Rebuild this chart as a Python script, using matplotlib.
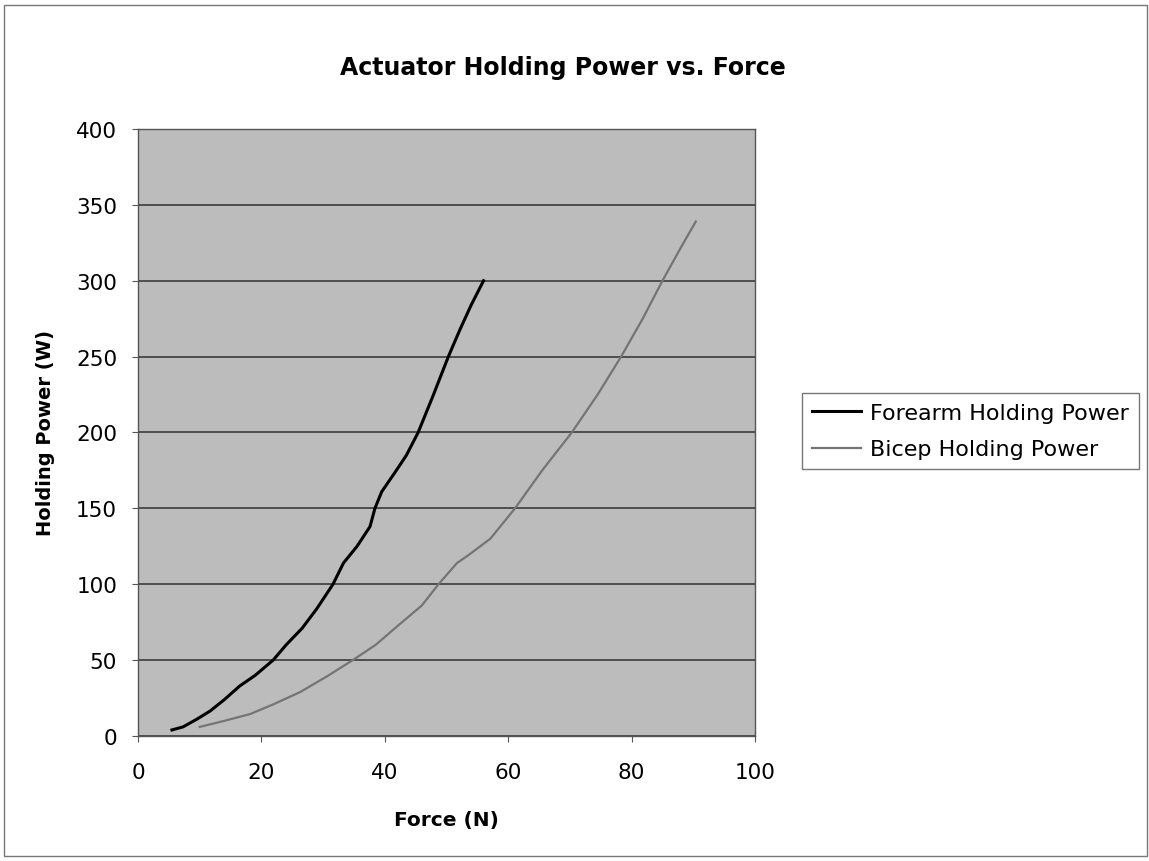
import numpy as np
import matplotlib
matplotlib.use('Agg')
import matplotlib.pyplot as plt
from matplotlib.patches import Rectangle

plt.rcParams['font.family'] = ['DejaVu Sans']

# forearm actuator (N, W)
forearm_x = [5.5, 7.3, 9.5, 11.7, 14, 16.5, 19, 21.9, 24, 26.6, 29, 31.6, 33.3,
             35.5, 37.6, 38.4, 39.5, 41.7, 43.5, 45.4, 47.8, 50.3, 52.2, 54, 56]
forearm_y = [4, 6, 11, 16.5, 24, 33, 40, 50, 60, 71, 84, 100, 114,
             125, 138, 150, 161, 174, 185, 200, 224, 250, 268, 284, 300]

# bicep actuator (N, W)
bicep_x = [10, 14, 18.2, 22, 26.3, 30.5, 34.8, 38.5, 42.5, 46, 48.7, 51.7, 53.5,
           57.1, 61.1, 65.5, 70.3, 74.5, 78.3, 81.8, 85, 88, 90.4]
bicep_y = [6, 10, 14.5, 21, 29, 39, 50, 60, 74, 86, 100, 114, 119,
           130, 150, 175, 200, 225, 250, 275, 300, 322, 339]

x_ticks = [0, 20, 40, 60, 80, 100]
y_ticks = [0, 50, 100, 150, 200, 250, 300, 350, 400]

fig = plt.figure(figsize=(11.49, 8.62), dpi=100)
ax = fig.add_axes([0.1201, 0.1450, 0.5370, 0.7042])
ax.set_facecolor('#bcbcbc')

ax.plot(forearm_x, forearm_y, color='black', lw=2.2, label='Forearm Holding Power', zorder=3)
ax.plot(bicep_x, bicep_y, color='#747474', lw=1.6, label='Bicep Holding Power', zorder=3)

ax.set_xlim(0, 100)
ax.set_ylim(0, 400)
ax.set_xticks(x_ticks)
ax.set_yticks(y_ticks)
ax.yaxis.grid(True, color='#303030', lw=1.1)
ax.set_axisbelow(True)
ax.tick_params(labelsize=15.5, length=4, width=0.8, color='#555555')
ax.tick_params(axis='x', pad=15)
ax.tick_params(axis='y', pad=11)
for s in ax.spines.values():
    s.set_color('#555555')
    s.set_linewidth(1.0)

ax.set_xlabel('Force (N)', fontsize=14.5, fontweight='bold', labelpad=20)
ax.set_ylabel('Holding Power (W)', fontsize=14, fontweight='bold', labelpad=15)
fig.text(0.49, 0.921, 'Actuator Holding Power vs. Force', fontsize=17,
         fontweight='bold', ha='center', va='center')

leg = ax.legend(loc='center left', bbox_to_anchor=(802 / 1149, 1 - 432 / 862),
                bbox_transform=fig.transFigure, fontsize=16, frameon=True,
                fancybox=False, borderaxespad=0, handlelength=2.2,
                handletextpad=0.4, labelspacing=0.75, borderpad=0.45)
leg.get_frame().set_edgecolor('#555555')
leg.get_frame().set_linewidth(1.0)

fig.patches.append(Rectangle((4 / 1149, 5 / 862), 1143 / 1149, 851 / 862,
                             transform=fig.transFigure, fill=False,
                             edgecolor='#777777', lw=1.0))

fig.savefig('out.png', dpi=100)
